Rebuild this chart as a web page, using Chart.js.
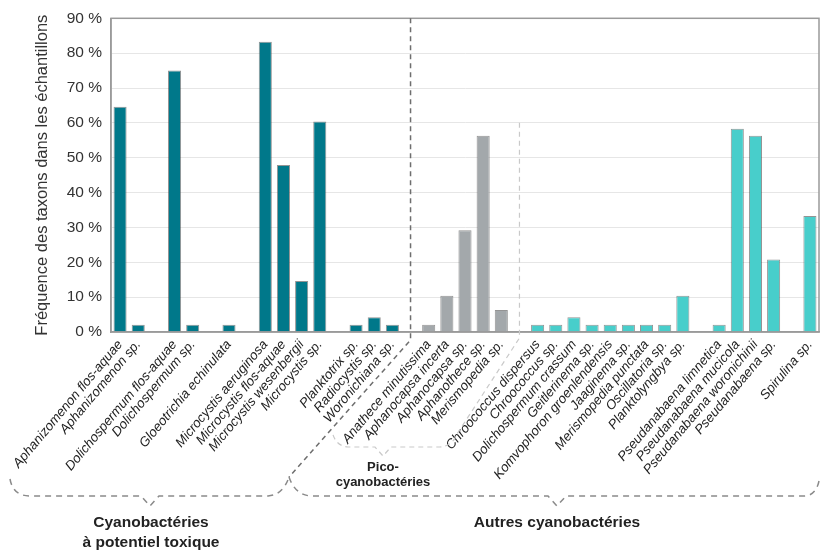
<!DOCTYPE html>
<html>
<head>
<meta charset="utf-8">
<script src="https://cdn.jsdelivr.net/npm/chart.js@4/dist/chart.umd.min.js"></script>
<style>
    html, body { margin: 0; padding: 0; background: #fff; }
</style>
</head>
<body>
<canvas id="chart" width="823" height="553"></canvas>
<script>
// one slot per taxon, empty slots ('') separate the groups
var taxons = [
    'Aphanizomenon flos-aquae', 'Aphanizomenon sp.', '',
    'Dolichospermum flos-aquae', 'Dolichospermum sp.', '',
    'Gloeotrichia echinulata', '',
    'Microcystis aeruginosa', 'Microcystis flos-aquae', 'Microcystis wesenbergii', 'Microcystis sp.', '',
    'Planktotrix sp.', 'Radiocystis sp.', 'Woronichiana sp.', '',
    'Anathece minutissima', 'Aphanocapsa incerta', 'Aphanocapsa sp.', 'Aphanothece sp.', 'Merismopedia sp.', '',
    'Chroococcus dispersus', 'Chroococcus sp.', 'Dolichospermum crassum', 'Geitlerinema sp.',
    'Komvophoron groenlendensis', 'Jaaginema sp.', 'Merismopedia punctata', 'Oscillatoria sp.', 'Planktolyngbya sp.', '',
    'Pseudanabaena limnetica', 'Pseudanabaena mucicola', 'Pseudanabaena woronichinii', 'Pseudanabaena sp.', '',
    'Spirulina sp.'
];
var frequences = [
    64.6, 2.1, null,
    75.0, 2.1, null,
    2.1, null,
    83.3, 47.9, 14.6, 60.4, null,
    2.1, 4.2, 2.1, null,
    2.1, 10.4, 29.2, 56.3, 6.3, null,
    2.1, 2.1, 4.2, 2.1,
    2.1, 2.1, 2.1, 2.1, 10.4, null,
    2.1, 58.3, 56.3, 20.8, null,
    33.3
];
// t = potentiel toxique, p = pico, a = autres
var groupes = [
    't', 't', '', 't', 't', '', 't', '', 't', 't', 't', 't', '', 't', 't', 't', '',
    'p', 'p', 'p', 'p', 'p', '',
    'a', 'a', 'a', 'a', 'a', 'a', 'a', 'a', 'a', '', 'a', 'a', 'a', 'a', '', 'a'
];
var couleurs = { t: '#00788a', p: '#a3a8ab', a: '#48cecb', '': '#ffffff' };
var yMax = 90, yStep = 10;

var annotations = {
    id: 'annotations',
    afterDraw: function (chart) {
        var ctx = chart.ctx, area = chart.chartArea;
        var sx = chart.scales.x, sy = chart.scales.y;
        ctx.save();

        //plot frame
        ctx.strokeStyle = '#9a9a9a';
        ctx.lineWidth = 1.5;
        ctx.strokeRect(area.left, area.top, area.right - area.left, area.bottom - area.top);

        //pico separator + brace (light)
        var xp = sx.getPixelForValue(22);
        ctx.setLineDash([5, 4]);
        ctx.strokeStyle = '#c9c9c9';
        ctx.lineWidth = 1.2;
        ctx.beginPath();
        ctx.moveTo(xp, sy.getPixelForValue(60));
        ctx.lineTo(xp, area.bottom + 6);
        ctx.lineTo(457, 434);
        ctx.quadraticCurveTo(452, 447, 438, 447);
        ctx.lineTo(391, 447);
        ctx.lineTo(383, 456);
        ctx.lineTo(375, 447);
        ctx.lineTo(348, 447);
        ctx.quadraticCurveTo(335, 446, 332, 431);
        ctx.stroke();

        //toxic / others separator (dark)
        var xs = sx.getPixelForValue(16);
        ctx.strokeStyle = '#6e6e6e';
        ctx.lineWidth = 1.5;
        ctx.beginPath();
        ctx.moveTo(xs, area.top);
        ctx.lineTo(xs, area.bottom + 8);
        ctx.lineTo(289, 477);
        ctx.stroke();

        //group braces
        ctx.strokeStyle = '#8a8a8a';
        ctx.setLineDash([6, 5]);
        ctx.beginPath();
        ctx.moveTo(10, 479);
        ctx.quadraticCurveTo(13, 496, 30, 496);
        ctx.lineTo(141, 496);
        ctx.lineTo(150, 506);
        ctx.lineTo(159, 496);
        ctx.lineTo(268, 496);
        ctx.quadraticCurveTo(283, 495, 289, 477);
        ctx.stroke();
        ctx.beginPath();
        ctx.moveTo(289, 477);
        ctx.quadraticCurveTo(295, 495, 311, 496);
        ctx.lineTo(548, 496);
        ctx.lineTo(557, 506);
        ctx.lineTo(566, 496);
        ctx.lineTo(805, 496);
        ctx.quadraticCurveTo(816, 495, 819, 481);
        ctx.stroke();

        //group names
        ctx.setLineDash([]);
        ctx.fillStyle = '#222';
        ctx.textAlign = 'center';
        ctx.textBaseline = 'middle';
        ctx.font = 'bold 15.5px "Liberation Sans", Arial, sans-serif';
        ctx.fillText('Cyanobactéries', 151, 523);
        ctx.fillText('à potentiel toxique', 151, 543);
        ctx.fillText('Autres cyanobactéries', 557, 523);
        ctx.font = 'bold 13px "Liberation Sans", Arial, sans-serif';
        ctx.fillText('Pico-', 383, 467);
        ctx.fillText('cyanobactéries', 383, 482);
        ctx.restore();
    }
};

new Chart(document.getElementById('chart'), {
    type: 'bar',
    data: {
        labels: taxons,
        datasets: [{
            data: frequences,
            backgroundColor: groupes.map(function (g) { return couleurs[g]; }),
            borderColor: 'rgba(60, 60, 60, 0.55)',
            borderWidth: 1,
            categoryPercentage: 1,
            barPercentage: 0.72
        }]
    },
    options: {
        responsive: false,
        animation: false,
        layout: { padding: { top: 10, right: 4, left: 0, bottom: 0 } },
        plugins: { legend: { display: false }, tooltip: { enabled: false } },
        scales: {
            x: {
                grid: { display: false },
                border: { color: '#9a9a9a', width: 1.5 },
                ticks: {
                    autoSkip: false,
                    minRotation: 50,
                    maxRotation: 50,
                    padding: -3,
                    color: '#222',
                    font: { family: '"Liberation Sans", Arial, sans-serif', size: 13.3, style: 'italic' }
                },
                afterFit: function (scale) { scale.height = 221; }
            },
            y: {
                min: 0,
                max: yMax,
                grid: { color: '#e6e6e6', drawTicks: false },
                border: { color: '#9a9a9a', width: 1.5 },
                ticks: {
                    stepSize: yStep,
                    padding: 9,
                    color: '#333',
                    font: { family: '"Liberation Sans", Arial, sans-serif', size: 15.5 },
                    callback: function (v) { return v + ' %'; }
                },
                title: {
                    display: true,
                    text: 'Fréquence des taxons dans les échantillons',
                    color: '#333',
                    padding: { top: 33, bottom: 0 },
                    font: { family: '"Liberation Sans", Arial, sans-serif', size: 16.5 }
                },
                afterFit: function (scale) { scale.width = 111; }
            }
        }
    },
    plugins: [annotations]
});
</script>
</body>
</html>
